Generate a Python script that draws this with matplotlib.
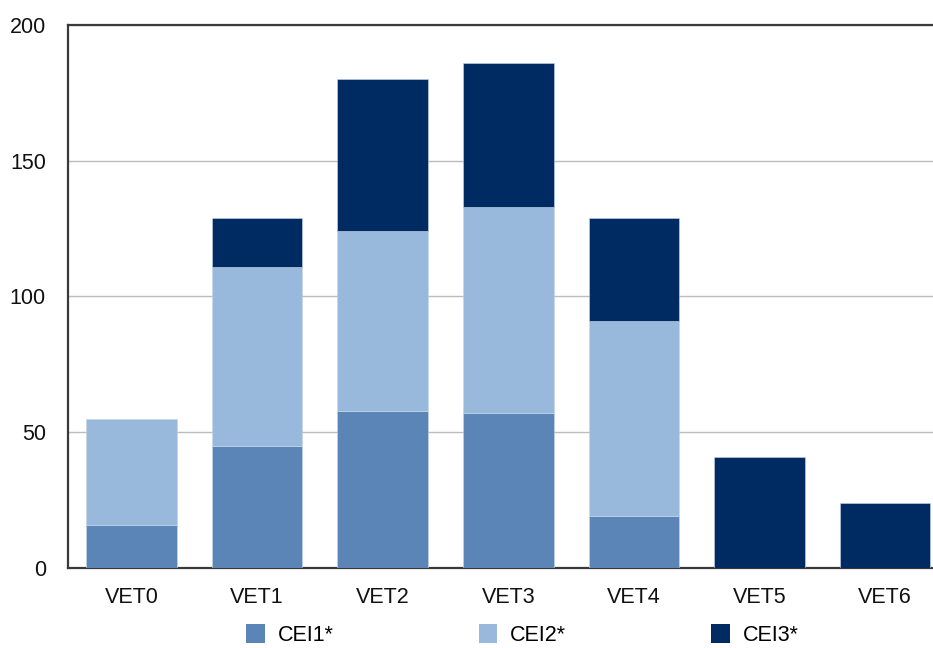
#!/usr/bin/env python3

import numpy as np
import matplotlib
matplotlib.use("Agg")
import matplotlib.pyplot as plt
from matplotlib.patches import Patch

categories = ["VET0", "VET1", "VET2", "VET3", "VET4", "VET5", "VET6"]
series_names = ["CEI1*", "CEI2*", "CEI3*"]
cei1 = [16, 45, 58, 57, 19, 0, 0]
cei2 = [39, 66, 66, 76, 72, 0, 0]
cei3 = [0, 18, 56, 53, 38, 41, 24]
colors = ["#5c85b7", "#98b9db", "#002b62"]
y_ticks = [0, 50, 100, 150, 200]


def main():
    plt.rcParams['font.family'] = ['Liberation Sans', 'DejaVu Sans']
    fig = plt.figure(figsize=(9.33, 6.48), dpi=100)
    ax = fig.add_axes([0.0729, 0.1235, 0.9271, 0.8379])

    x = np.arange(len(categories))
    bottom = np.zeros(len(categories))
    for vals, col in zip([cei1, cei2, cei3], colors):
        vals = np.array(vals, dtype=float)
        ax.bar(x, vals, width=0.72, bottom=bottom, color=col,
               edgecolor="#c8d6e8", linewidth=0.4, zorder=3)
        bottom += vals

    ax.set_ylim(0, 200)
    ax.set_xlim(-0.505, 6.38)
    ax.set_yticks(y_ticks)
    ax.set_xticks(x)
    ax.set_xticklabels(categories)
    ax.tick_params(axis="both", length=0, labelsize=15.5, colors="#111111")
    ax.tick_params(axis="y", pad=16)
    ax.tick_params(axis="x", pad=14)
    ax.yaxis.grid(True, color="#bcbcbc", linewidth=1.0, zorder=0)

    for side in ["left", "top", "bottom"]:
        ax.spines[side].set_color("#3a3a3a")
        ax.spines[side].set_linewidth(1.6)
    ax.spines["right"].set_visible(False)

    handles = [Patch(facecolor=c, edgecolor="none") for c in colors]
    fig.legend(handles, series_names, loc="center", ncol=3,
               bbox_to_anchor=(0.56, 0.02), frameon=False, fontsize=15.5,
               handlelength=0.85, handleheight=1.0, handletextpad=0.6,
               columnspacing=6.75, borderpad=0.1)

    fig.savefig("out.png", dpi=100)


if __name__ == "__main__":
    main()
